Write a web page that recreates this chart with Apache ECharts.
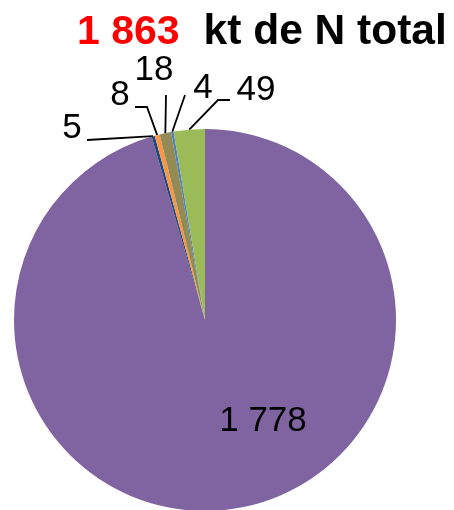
<!DOCTYPE html>
<html>
<head>
<meta charset="utf-8">
<script src="https://cdn.jsdelivr.net/npm/echarts@6/dist/echarts.min.js"></script>
<style>
  html, body { margin: 0; padding: 0; background: #fff; }
  #chart { width: 454px; height: 510px; }
</style>
</head>
<body>
<div id="chart"></div>
<script>
const categories = ['A', 'B', 'C', 'D', 'E', 'F'];
const values = [1778, 5, 8, 18, 4, 49];
const labels = ['1 778', '5', '8', '18', '4', '49'];
const total = '1 863';

const colors = ['#8064A2', '#1F497D', '#F79646', '#948A54', '#4F81BD', '#9BBB59'];

// label anchor and elbow of leader line, per slice
const labelPos = [[263, 421], [72, 128], [120, 95], [154, 70], [203, 88], [256, 90]];
const elbows = [null, [87, 140], [147, 107], [166, 95], [185, 95], [218, 100]];
const lineEnds = [null, [87, 140], [135, 107], [166, 95], [185, 95], [230, 100]];

const chart = echarts.init(document.getElementById('chart'));

const option = {
  animation: false,
  title: {
    text: '{r|' + total + '}{b|kt de N total}',
    left: 72,
    top: 6,
    textStyle: {
      rich: {
        r: { color: '#FF0000', fontSize: 41, fontWeight: 'bold', fontFamily: 'Liberation Sans', padding: [0, 24, 0, 0] },
        b: { color: '#000', fontSize: 42.5, fontWeight: 'bold', fontFamily: 'Liberation Sans' }
      }
    }
  },
  series: [{
    type: 'pie',
    center: [205, 320],
    radius: [0, 191],
    startAngle: 90,
    clockwise: true,
    avoidLabelOverlap: false,
    color: colors,
    label: {
      show: true,
      position: 'outside',
      fontFamily: 'Liberation Sans',
      fontSize: 35,
      color: '#000',
      formatter: p => labels[p.dataIndex]
    },
    labelLine: {
      show: true,
      length: 10,
      length2: 10,
      lineStyle: { color: '#000', width: 1.8 }
    },
    labelLayout: p => {
      const i = p.dataIndex;
      const out = { x: labelPos[i][0], y: labelPos[i][1], align: 'center', verticalAlign: 'middle' };
      if (elbows[i] && p.labelLinePoints) {
        out.labelLinePoints = [p.labelLinePoints[0], elbows[i], lineEnds[i]];
      }
      return out;
    },
    data: values.map((v, i) => ({
      name: categories[i],
      value: v,
      labelLine: i === 0 ? { show: false } : undefined
    }))
  }]
};

chart.setOption(option);
</script>
</body>
</html>
